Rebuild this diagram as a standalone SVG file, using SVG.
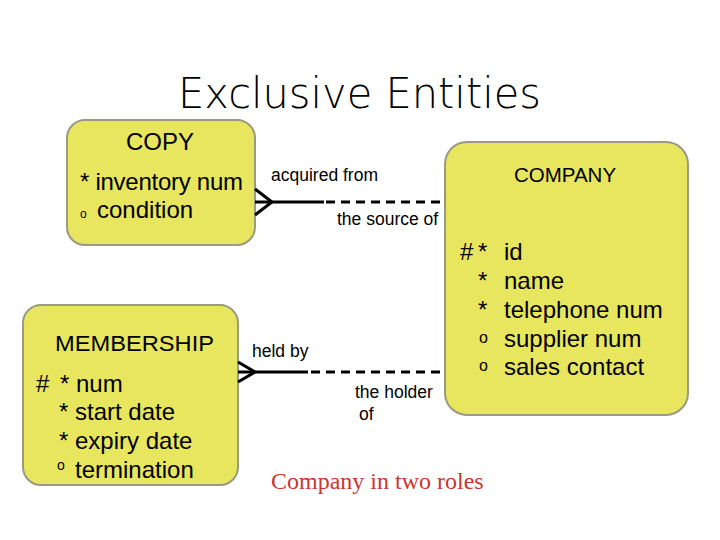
<svg xmlns="http://www.w3.org/2000/svg" width="720" height="540" viewBox="0 0 720 540">
<style>
.box{fill:#e8e65e;stroke:#9a9a80;stroke-width:2}
.t{font-family:"Liberation Sans",Arial,sans-serif;fill:#000}
.a{font-size:24px}
.l{font-size:17.5px}
.solid{stroke:#000;stroke-width:3;fill:none}
.dash{stroke:#000;stroke-width:3;fill:none;stroke-dasharray:9,6}
</style>
<rect width="720" height="540" fill="#fff"/>
<text x="178" y="108" font-family="'DejaVu Sans',sans-serif" font-weight="200" font-size="42" textLength="363" lengthAdjust="spacingAndGlyphs">Exclusive Entities</text>
<g id="copy">
<rect class="box" x="67" y="120" width="188" height="125" rx="18"/>
<text class="t" x="160" y="150" font-size="24" text-anchor="middle">COPY</text>
<text class="t a" x="80" y="190" textLength="163">* inventory num</text>
<text class="t" x="80" y="218" font-size="12">o</text>
<text class="t a" x="97" y="218">condition</text>
</g>
<g id="membership">
<rect class="box" x="23" y="305" width="215" height="180" rx="18"/>
<text class="t" x="55" y="351" font-size="22" textLength="159" lengthAdjust="spacingAndGlyphs">MEMBERSHIP</text>
<text class="t a" x="36" y="392">#</text>
<text class="t a" x="60" y="392">* num</text>
<text class="t a" x="59" y="420">* start date</text>
<text class="t a" x="59" y="449">* expiry date</text>
<text class="t" x="57" y="470" font-size="14">o</text>
<text class="t a" x="75" y="478">termination</text>
</g>
<g id="company">
<rect class="box" x="445" y="142" width="243" height="273" rx="22"/>
<text class="t" x="565" y="182" font-size="20.5" text-anchor="middle">COMPANY</text>
<text class="t a" x="460" y="260">#</text>
<text class="t a" x="478" y="260">*</text>
<text class="t a" x="504" y="260">id</text>
<text class="t a" x="478" y="289">*</text>
<text class="t a" x="504" y="289">name</text>
<text class="t a" x="478" y="318">*</text>
<text class="t a" x="504" y="318">telephone num</text>
<text class="t" x="479" y="343" font-size="16">o</text>
<text class="t a" x="504" y="347">supplier num</text>
<text class="t" x="479" y="371" font-size="16">o</text>
<text class="t a" x="504" y="375">sales contact</text>
</g>
<g id="connectors">
<polyline class="solid" points="255,189 272,202 255,215"/>
<line class="solid" x1="255" y1="202" x2="324" y2="202"/>
<line class="dash" x1="326" y1="202" x2="445" y2="202"/>
<polyline class="solid" points="238,362 255,372 238,382"/>
<line class="solid" x1="238" y1="372" x2="308" y2="372"/>
<line class="dash" x1="311" y1="372" x2="445" y2="372"/>
</g>
<g id="labels">
<text class="t l" x="271" y="181">acquired from</text>
<text class="t l" x="337" y="225">the source of</text>
<text class="t l" x="252" y="357">held by</text>
<text class="t l" x="355" y="398">the holder</text>
<text class="t l" x="359" y="420">of</text>
<text x="271" y="489" font-family="Liberation Serif,'Times New Roman',serif" font-size="24" fill="#c8372d">Company in two roles</text>
</g>
</svg>
